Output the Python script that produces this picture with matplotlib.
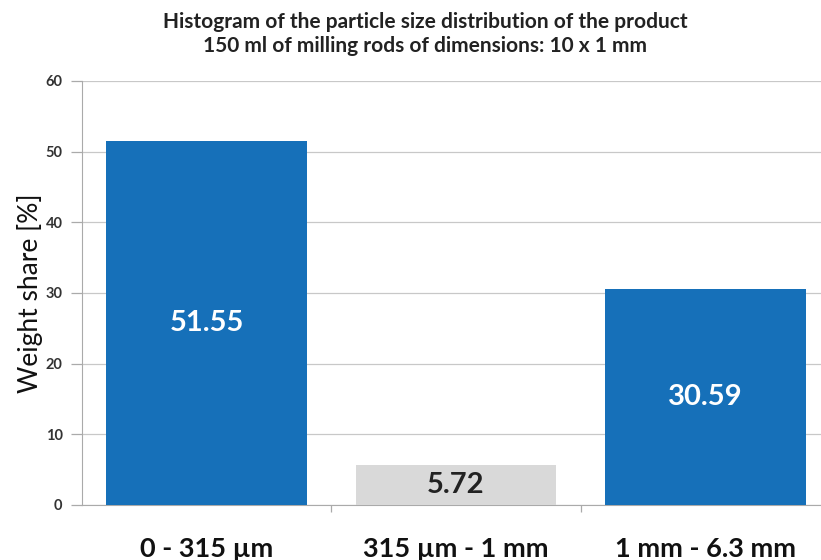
import matplotlib.pyplot as plt

# data
categories = ['0 - 315 µm', '315 µm - 1 mm', '1 mm - 6.3 mm']
weight_share = [51.55, 5.72, 30.59]
bar_colors = ['#1670B9', '#D9D9D9', '#1670B9']
label_colors = ['white', '#222222', 'white']
yticks = [0, 10, 20, 30, 40, 50, 60]

plt.rcParams['font.family'] = ['Lato', 'DejaVu Sans']

fig = plt.figure(figsize=(8.21, 5.6), dpi=100)
# axes runs a bit past the right edge like in the original
ax = fig.add_axes([82 / 821, 1 - 505 / 560, (830 - 82) / 821, (505 - 81) / 560])

x = range(len(categories))
bars = ax.bar(x, weight_share, width=0.806, color=bar_colors, zorder=3)

for b, v, c in zip(bars, weight_share, label_colors):
    ax.text(b.get_x() + b.get_width() / 2, v / 2, f'{v:.2f}', ha='center', va='center',
            color=c, fontsize=21, fontweight='bold', zorder=4)

ax.set_xlim(-0.5, 2.5)
ax.set_ylim(0, 60)
ax.set_yticks(yticks)
ax.set_yticklabels([str(t) for t in yticks], fontsize=10.5, fontweight='bold', color='#333333')
ax.yaxis.grid(True, color='#C8C8C8', linewidth=0.9, zorder=0)

ax.set_xticks([0.5, 1.5])
ax.set_xticklabels([])
ax.tick_params(axis='x', length=5, color='#AAAAAA', width=0.9)
ax.tick_params(axis='y', length=8, color='#AAAAAA', width=0.9, pad=6)
for i, lab in enumerate(categories):
    ax.text(i, -0.103, lab, transform=ax.get_xaxis_transform(), ha='center', va='center',
            fontsize=19.5, fontweight='bold', color='#111111')

for s in ['top', 'right']:
    ax.spines[s].set_visible(False)
ax.spines['left'].set_color('#AAAAAA')
ax.spines['bottom'].set_color('#AAAAAA')

ax.set_ylabel('Weight share [%]', fontsize=19, color='#111111', labelpad=2)

fig.text(425 / 821, 1 - 22 / 560, 'Histogram of the particle size distribution of the product',
         ha='center', va='center', fontsize=15, fontweight='bold', color='#222222')
fig.text(425 / 821, 1 - 46 / 560, '150 ml of milling rods of dimensions: 10 x 1 mm',
         ha='center', va='center', fontsize=15, fontweight='bold', color='#222222')

plt.savefig('out.png', dpi=100)
